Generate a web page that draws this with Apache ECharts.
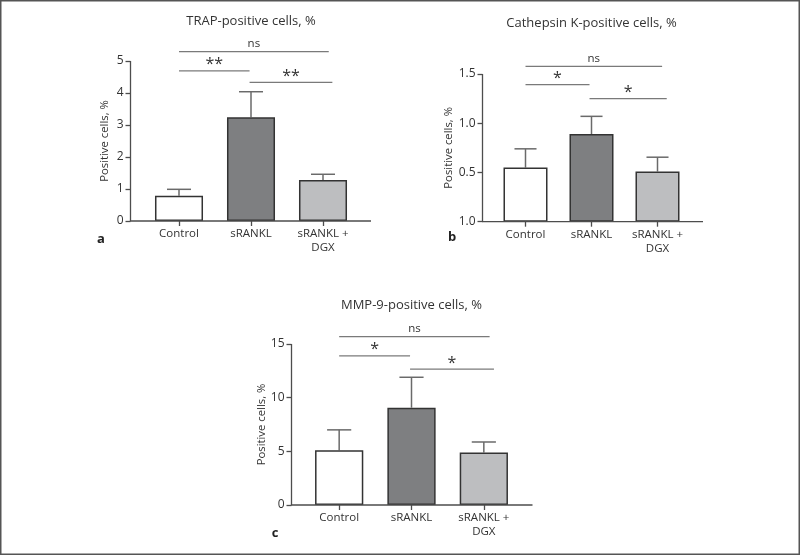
<!DOCTYPE html>
<html>
<head>
<meta charset="utf-8">
<script src="https://cdn.jsdelivr.net/npm/echarts@6/dist/echarts.min.js"></script>
<style>
  html, body { margin: 0; padding: 0; background: #fff; }
  #chart { width: 800px; height: 555px; }
</style>
</head>
<body>
<div id="chart"></div>
<script>
// categories shared by the three panels
const categories = ['Control', 'sRANKL', 'sRANKL +\nDGX'];

// a: TRAP-positive cells
const trapMean = [0.79, 3.24, 1.28];
const trapErr = [0.20, 0.80, 0.18];
const trapTicks = ['0', '1', '2', '3', '4', '5'];
// [from category, to category, y value, label]
const trapSig = [[0, 2.08, 5.29, 'ns'], [0, 0.98, 4.69, '**'], [0.98, 2.13, 4.33, '**']];

// b: Cathepsin K-positive cells (bottom tick really reads "1.0" in the figure)
const ctskMean = [0.55, 0.89, 0.51];
const ctskErr = [0.19, 0.18, 0.145];
const ctskTicks = ['1.0', '0.5', '1.0', '1.5'];
const ctskSig = [[0, 2.07, 1.578, 'ns'], [0, 0.97, 1.392, '*'], [0.97, 2.14, 1.25, '*']];

// c: MMP-9-positive cells
const mmpMean = [5.1, 9.07, 4.88];
const mmpErr = [1.9, 2.83, 0.99];
const mmpTicks = ['0', '5', '10', '15'];
const mmpSig = [[0, 2.08, 15.68, 'ns'], [0, 0.98, 13.89, '*'], [0.98, 2.14, 12.65, '*']];

const barColors = ['#ffffff', '#7e7f81', '#bdbec0'];
const font = '"Open Sans", "Noto Sans", sans-serif';
const textColor = '#333';
const axisColor = '#4d4d4d';

const panels = [
  { title: 'TRAP-positive cells, %', tag: 'a', mean: trapMean, err: trapErr, ticks: trapTicks, sig: trapSig,
    max: 5, interval: 1, left: 143, width: 216, top: 61, height: 160, axisX: 130.5, axisEnd: 371,
    titleY: 21, tagX: 101, tagY: 239 },
  { title: 'Cathepsin K-positive cells, %', tag: 'b', mean: ctskMean, err: ctskErr, ticks: ctskTicks, sig: ctskSig,
    max: 1.5, interval: 0.5, left: 492.5, width: 198, top: 74, height: 147.7, axisX: 482.5, axisEnd: 703,
    titleY: 23, tagX: 452, tagY: 237 },
  { title: 'MMP-9-positive cells, %', tag: 'c', mean: mmpMean, err: mmpErr, ticks: mmpTicks, sig: mmpSig,
    max: 15, interval: 5, left: 303, width: 217, top: 344, height: 161, axisX: 291.5, axisEnd: 532.5,
    titleY: 305, tagX: 275, tagY: 533 }
];

const grid = [], xAxis = [], yAxis = [], series = [], graphic = [];

// outer frame
graphic.push({ type: 'rect', shape: { x: 0.75, y: 0.75, width: 798.5, height: 553.5 },
  style: { fill: 'none', stroke: '#555', lineWidth: 1.5 } });

panels.forEach((p, k) => {
  grid.push({ left: p.left, top: p.top, width: p.width, height: p.height });
  xAxis.push({
    type: 'category', gridIndex: k, data: categories,
    axisLine: { show: false },
    axisTick: { show: true, alignWithLabel: true, length: 5, lineStyle: { color: axisColor, width: 1.3 } },
    axisLabel: { interval: 0, color: textColor, fontFamily: font, fontSize: 11.5, lineHeight: 14, margin: 6 }
  });
  yAxis.push({
    type: 'value', gridIndex: k, min: 0, max: p.max, interval: p.interval,
    offset: p.left - p.axisX,
    name: 'Positive cells, %', nameLocation: 'middle', nameGap: 20,
    nameTextStyle: { color: textColor, fontFamily: font, fontSize: 11.3 },
    axisLine: { show: false },
    axisTick: { show: true, length: 5, lineStyle: { color: axisColor, width: 1.3 } },
    axisLabel: { color: textColor, fontFamily: font, fontSize: 12, margin: 7,
      formatter: (v, i) => p.ticks[i] },
    splitLine: { show: false }
  });

  series.push({
    type: 'bar', xAxisIndex: k, yAxisIndex: k, barWidth: '66.7%',
    data: p.mean.map((v, i) => ({ value: v, itemStyle: { color: barColors[i] } })),
    itemStyle: { borderColor: '#333', borderWidth: 1.5 },
    z: 3
  });

  // one-sided error bars
  series.push({
    type: 'custom', xAxisIndex: k, yAxisIndex: k, z: 2,
    data: p.mean.map((v, i) => [i, v, v + p.err[i]]),
    renderItem: (params, api) => {
      const lo = api.coord([api.value(0), api.value(1)]);
      const hi = api.coord([api.value(0), api.value(2)]);
      const half = api.size([1, 0])[0] * 0.167;
      const st = { stroke: '#6a6a6a', lineWidth: 1.5 };
      return { type: 'group', children: [
        { type: 'line', shape: { x1: lo[0], y1: lo[1], x2: hi[0], y2: hi[1] }, style: st },
        { type: 'line', shape: { x1: hi[0] - half, y1: hi[1], x2: hi[0] + half, y2: hi[1] }, style: st }
      ] };
    }
  });

  // significance lines
  series.push({
    type: 'custom', xAxisIndex: k, yAxisIndex: k, z: 2, clip: false,
    data: p.sig.map(s => [s[0], s[1], s[2]]),
    renderItem: (params, api) => {
      const base = api.coord([0, api.value(2)]);
      const cw = api.size([1, 0])[0];
      const xa = base[0] + api.value(0) * cw;
      const xb = base[0] + api.value(1) * cw;
      const label = p.sig[params.dataIndex][3];
      const star = label !== 'ns';
      return { type: 'group', children: [
        { type: 'line', shape: { x1: xa, y1: base[1], x2: xb, y2: base[1] },
          style: { stroke: '#7a7a7a', lineWidth: 1.3 } },
        { type: 'text', x: (xa + xb) / 2, y: base[1] - (star ? -2 : 2),
          style: { text: label, fill: textColor, font: (star ? '16px ' : '11.5px ') + font,
            textAlign: 'center', textVerticalAlign: 'bottom' } }
      ] };
    }
  });

  // axis lines: x runs a little past the category band on both sides
  const yb = p.top + p.height;
  graphic.push({ type: 'line', z: 100, shape: { x1: p.axisX - 0.6, y1: yb, x2: p.axisEnd, y2: yb },
    style: { stroke: axisColor, lineWidth: 1.3 } });
  graphic.push({ type: 'line', z: 100, shape: { x1: p.axisX, y1: p.top, x2: p.axisX, y2: yb },
    style: { stroke: axisColor, lineWidth: 1.3 } });

  graphic.push({ type: 'text', x: p.left + p.width / 2, y: p.titleY,
    style: { text: p.title, fill: textColor, font: '13px ' + font, textAlign: 'center', textVerticalAlign: 'middle' } });
  graphic.push({ type: 'text', x: p.tagX, y: p.tagY,
    style: { text: p.tag, fill: '#222', font: 'bold 13px ' + font, textAlign: 'center', textVerticalAlign: 'middle' } });
});

const chart = echarts.init(document.getElementById('chart'));
chart.setOption({
  animation: false,
  backgroundColor: '#fff',
  grid, xAxis, yAxis, series, graphic
});
</script>
</body>
</html>
